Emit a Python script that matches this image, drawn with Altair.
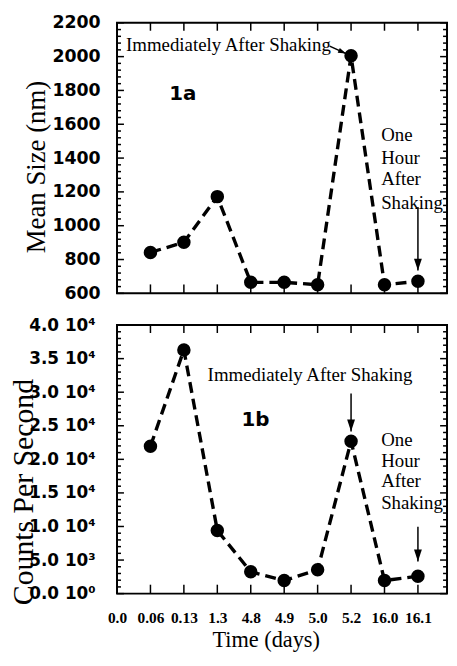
import altair as alt
import pandas as pd
import numpy as np

# ---------------- data ----------------
time_labels = ["0.0", "0.06", "0.13", "1.3", "4.8", "4.9", "5.0", "5.2", "16.0", "16.1"]
sample_times = ["0.06", "0.13", "1.3", "4.8", "4.9", "5.0", "5.2", "16.0", "16.1"]
mean_size_nm = [842, 902, 1172, 665, 665, 651, 2005, 651, 671]
counts_per_second = [21950, 36300, 9400, 3250, 1950, 3550, 22700, 1950, 2600]

size_ticks = [600, 800, 1000, 1200, 1400, 1600, 1800, 2000, 2200]
count_ticks = [0, 5000, 10000, 15000, 20000, 25000, 30000, 35000, 40000]
count_tick_labels = ["0.0 10⁰", "5.0 10³", "1.0 10⁴", "1.5 10⁴", "2.0 10⁴",
                     "2.5 10⁴", "3.0 10⁴", "3.5 10⁴", "4.0 10⁴"]
size_minor_step = 40
count_minor_step = 1000
x_end = 9.87  # right frame edge, in time-axis position units

# annotations: x in time-axis position units, y in panel units
note_words = ["Immediately After Shaking", "One", "Hour", "After", "Shaking"]
size_note_x = [0.27, 7.9, 7.9, 7.9, 7.9]
size_note_y = [2036, 1502, 1362, 1239, 1098]
count_note_x = [2.71, 7.9, 7.9, 7.9, 7.9]
count_note_y = [31650, 21960, 18930, 15840, 12650]

panel_names = ["1a", "1b"]
size_name_x, size_name_y = [1.97], [1743]
count_name_x, count_name_y = [4.14], [25000]

# arrows: tail (x, y) -> tip (x2, y2)
size_arrow_x = [6.36, 9]
size_arrow_y = [2062, 1110]
size_arrow_x2 = [6.85, 9]
size_arrow_y2 = [2018, 735]
count_arrow_x = [7, 9]
count_arrow_y = [29800, 9950]
count_arrow_x2 = [7, 9]
count_arrow_y2 = [24160, 4800]

# ---------------- styling ----------------
W = 333
SERIF = "Liberation Serif"
SANS = "DejaVu Sans"
xscale = alt.Scale(domain=[0, x_end], nice=False, zero=False)
pos_of = {t: i for i, t in enumerate(time_labels)}
arrow_head = "M0,0L-0.33,-1L0.33,-1Z"


def build_panel(values, ydom, majors, minor_step, yaxis, xaxis, H,
                note_x, note_y, name, name_x, name_y,
                ax, ay, ax2, ay2, head_sizes, head_angles):
    yscale = alt.Scale(domain=ydom, nice=False, zero=False)

    def X(f="pos"):
        return alt.X(f"{f}:Q", scale=xscale, axis=xaxis)

    def Y(f="val"):
        return alt.Y(f"{f}:Q", scale=yscale, axis=yaxis)

    df = pd.DataFrame({"pos": [pos_of[t] for t in sample_times], "val": values})
    line = alt.Chart(df).mark_line(color="black", strokeWidth=3.4, strokeDash=[11, 6]).encode(
        x=X(), y=Y())
    pts = alt.Chart(df).mark_circle(color="black", size=185, opacity=1).encode(x=X(), y=Y())

    minors = [v for v in np.arange(ydom[0], ydom[1] + 0.1, minor_step) if v not in majors]
    maj_df = pd.DataFrame({"val": majors})
    min_df = pd.DataFrame({"val": minors})
    ticks = []
    for d, ln in ((maj_df, 7), (min_df, 4)):
        ticks.append(alt.Chart(d).mark_rule(color="black", strokeWidth=1.5).encode(
            y=Y(), x=alt.value(0), x2=alt.value(ln)))
        ticks.append(alt.Chart(d).mark_rule(color="black", strokeWidth=1.5).encode(
            y=Y(), x=alt.value(W), x2=alt.value(W - ln)))
    xt_df = pd.DataFrame({"pos": list(range(1, len(time_labels)))})
    ticks.append(alt.Chart(xt_df).mark_rule(color="black", strokeWidth=1.5).encode(
        x=X(), y=alt.value(0), y2=alt.value(8)))
    ticks.append(alt.Chart(xt_df).mark_rule(color="black", strokeWidth=1.5).encode(
        x=X(), y=alt.value(H), y2=alt.value(H - 9)))

    notes_df = pd.DataFrame({"pos": note_x, "val": note_y, "txt": note_words})
    notes = alt.Chart(notes_df).mark_text(
        align="left", baseline="alphabetic", font=SERIF, fontSize=19, color="black").encode(
        x=X(), y=Y(), text="txt:N")

    name_df = pd.DataFrame({"pos": name_x, "val": name_y, "txt": [name]})
    name_txt = alt.Chart(name_df).mark_text(
        align="center", baseline="alphabetic", font=SANS, fontWeight="bold",
        fontSize=20, color="black").encode(x=X(), y=Y(), text="txt:N")

    ar_df = pd.DataFrame({"pos": ax, "val": ay, "pos2": ax2, "val2": ay2,
                          "hs": head_sizes, "ang": head_angles})
    shafts = alt.Chart(ar_df).mark_rule(color="black", strokeWidth=1.5).encode(
        x=X(), y=Y(), x2="pos2:Q", y2="val2:Q")
    heads = alt.Chart(ar_df).mark_point(shape=arrow_head, filled=True, color="black",
                                        opacity=1, strokeWidth=0).encode(
        x=X("pos2"), y=Y("val2"),
        size=alt.Size("hs:Q", scale=None, legend=None),
        angle=alt.Angle("ang:Q", scale=None))

    return alt.layer(line, *ticks, shafts, heads, pts, notes, name_txt).properties(
        width=W, height=H)


size_axis = alt.Axis(values=size_ticks, format="d", labelFont=SANS, labelFontWeight="bold",
                     labelFontSize=17.5, labelPadding=17, tickSize=0, domain=False, grid=False,
                     labelColor="black", title="Mean Size (nm)", titleFont=SERIF,
                     titleFontWeight="normal", titleFontSize=27, titleColor="black",
                     titleX=-81, titleY=145, titleBaseline="middle")

count_expr = "[" + ",".join("'%s'" % s for s in count_tick_labels) + "][round(datum.value/%d)]" % (
    count_ticks[1] - count_ticks[0])
count_axis = alt.Axis(values=count_ticks, labelExpr=count_expr, labelFont=SANS,
                      labelFontWeight="bold", labelFontSize=17, labelPadding=22, tickSize=0,
                      domain=False, grid=False, labelColor="black",
                      title="Counts Per Second", titleFont=SERIF, titleFontWeight="normal",
                      titleFontSize=30, titleColor="black", titleX=-94, titleY=168,
                      titleBaseline="middle")

time_expr = "[" + ",".join("'%s'" % s for s in time_labels) + "][round(datum.value)]"
time_axis = alt.Axis(values=list(range(len(time_labels))), labelExpr=time_expr,
                     labelFont=SERIF, labelFontWeight="bold", labelFontSize=15.5,
                     labelPadding=17, tickSize=0, domain=False, grid=False,
                     labelOverlap=False, labelFlush=False, labelColor="black",
                     title="Time (days)", titleFont=SERIF, titleFontWeight="normal",
                     titleFontSize=22.5, titleColor="black", titleX=150, titleY=53,
                     titleBaseline="alphabetic")

top = build_panel(mean_size_nm, [600, 2200], size_ticks, size_minor_step, size_axis, None, 273,
                  size_note_x, size_note_y, panel_names[0], size_name_x, size_name_y,
                  size_arrow_x, size_arrow_y, size_arrow_x2, size_arrow_y2,
                  [260, 576], [294, 0])
bottom = build_panel(counts_per_second, [0, 40000], count_ticks, count_minor_step, count_axis,
                     time_axis, 271,
                     count_note_x, count_note_y, panel_names[1], count_name_x, count_name_y,
                     count_arrow_x, count_arrow_y, count_arrow_x2, count_arrow_y2,
                     [576, 576], [0, 0])

chart = alt.vconcat(top, bottom, spacing=32, bounds="flush").properties(
    padding={"left": 0, "top": 2, "right": 0, "bottom": 0}
).configure_view(stroke="black", strokeWidth=2)

chart.save("out.html", embed_options={"renderer": "svg", "actions": False})
